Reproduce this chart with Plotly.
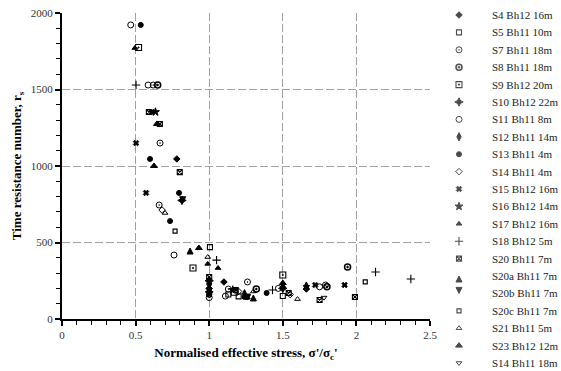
import plotly.graph_objects as go

# ---- data ----
series_names = [
    "S4 Bh12 16m", "S5 Bh11 10m", "S7 Bh11 18m", "S8 Bh11 18m", "S9 Bh12 20m",
    "S10 Bh12 22m", "S11 Bh11 8m", "S12 Bh11 14m", "S13 Bh11 4m", "S14 Bh11 4m",
    "S15 Bh12 16m", "S16 Bh12 14m", "S17 Bh12 16m", "S18 Bh12 5m", "S20 Bh11 7m",
    "S20a Bh11 7m", "S20b Bh11 7m", "S20c Bh11 7m", "S21 Bh11 5m", "S23 Bh12 12m",
    "S14 Bh11 18m",
]

s4_x = [0.78, 1.10, 1.00, 1.66]
s4_y = [1046, 242, 200, 196]
s5_x = [1.005, 1.13, 1.20, 1.50]
s5_y = [470, 160, 148, 150]
s7_x = [0.62, 0.666, 0.66, 1.26, 1.13, 1.79, 1.00]
s7_y = [1529, 1150, 745, 242, 196, 222, 140]
s8_x = [0.65, 1.94, 1.32, 1.80]
s8_y = [1529, 340, 196, 210]
s9_x = [0.52, 0.89, 1.50, 1.17]
s9_y = [1775, 333, 288, 175]
s10_x = [0.815, 1.00, 1.50]
s10_y = [775, 250, 200]
s11_x = [0.467, 0.585, 0.761, 1.11, 1.47, 1.75]
s11_y = [1922, 1529, 418, 150, 200, 210]
s12_x = [1.66, 1.00, 1.24]
s12_y = [215, 180, 165]
s13_x = [0.535, 0.598, 0.795, 0.734, 1.39, 1.24, 1.00]
s13_y = [1922, 1046, 824, 640, 170, 144, 230]
s14a_x = [0.68, 1.20, 1.55]
s14a_y = [712, 180, 160]
s15_x = [0.61, 0.503, 0.571, 1.72, 1.92, 1.26, 1.00]
s15_y = [1353, 1150, 824, 222, 222, 144, 160]
s16_x = [0.635, 1.00, 1.16]
s16_y = [1353, 170, 190]
s17_x = [0.495, 0.99, 1.06, 1.50]
s17_y = [1771, 360, 333, 215]
s18_x = [0.503, 1.05, 1.43, 2.13, 2.37]
s18_y = [1529, 385, 190, 307, 261]
s20_x = [0.59, 0.665, 0.80, 1.00, 1.18, 1.54, 1.75, 1.99]
s20_y = [1353, 1275, 960, 275, 190, 170, 124, 144]
s20a_x = [0.87, 1.00, 1.30]
s20a_y = [464, 210, 157]
s20b_x = [0.82, 1.26, 1.66]
s20b_y = [760, 124, 180]
s20c_x = [0.768, 2.06, 1.00]
s20c_y = [575, 242, 190]
s21_x = [0.70, 0.99, 1.60, 1.30]
s21_y = [693, 405, 130, 180]
s23_x = [0.625, 0.93, 0.645, 1.50]
s23_y = [1000, 464, 1275, 235]
s14b_x = [1.00, 1.78]
s14b_y = [155, 140]

series_x = [s4_x, s5_x, s7_x, s8_x, s9_x, s10_x, s11_x, s12_x, s13_x, s14a_x,
            s15_x, s16_x, s17_x, s18_x, s20_x, s20a_x, s20b_x, s20c_x, s21_x, s23_x, s14b_x]
series_y = [s4_y, s5_y, s7_y, s8_y, s9_y, s10_y, s11_y, s12_y, s13_y, s14a_y,
            s15_y, s16_y, s17_y, s18_y, s20_y, s20a_y, s20b_y, s20c_y, s21_y, s23_y, s14b_y]

x_tick_vals = [0, 0.5, 1, 1.5, 2, 2.5]
x_tick_text = ["0", "0.5", "1", "1.5", "2", "2.5"]
y_tick_vals = [0, 500, 1000, 1500, 2000]
y_tick_text = ["0", "500", "1000", "1500", "2000"]

# ---- styles ----
symbols = ["diamond", "square-open", "circle-open-dot", "circle-open-dot", "square-open-dot",
           "star-diamond", "circle-open", "diamond-tall", "circle", "diamond-open",
           "x", "star", "triangle-up", "cross-thin-open", "square-x-open",
           "arrow-up", "arrow-down", "square-open", "triangle-up-open", "triangle-up",
           "triangle-down-open"]
sizes = [5, 5, 6, 6, 6, 6, 6, 6, 5, 5, 5, 6, 5, 6, 5, 6, 6, 4, 5, 6, 5]
lws = [1, 1.1, 1, 1.5, 1.1, 1, 1, 1, 1, 1, 0.8, 1, 1, 1.1, 1.1, 1, 1, 1.2, 1, 1, 1]

SERIF = "Liberation Serif, Times New Roman, serif"
W, H = 561, 371
L = 62
plot_px_left, plot_px_right = 62, 430
plot_px_top, plot_px_bottom = 13, 319
paper_w = W - L
x_dom_end = (plot_px_right - plot_px_left) / paper_w
y_dom = [(H - plot_px_bottom) / H, (H - plot_px_top) / H]

fig = go.Figure()
for name, xs, ys, sym, sz, lw in zip(series_names, series_x, series_y, symbols, sizes, lws):
    fig.add_trace(go.Scatter(
        x=xs, y=ys, mode="markers", name=name, showlegend=False,
        marker=dict(symbol=sym, size=sz, color="black", line=dict(color="black", width=lw)),
        hoverinfo="skip",
    ))

# legend column drawn on its own axis
n = len(series_names)
leg_idx = [-i for i in range(n)]
fig.add_trace(go.Scatter(
    x=[29] * n, y=leg_idx, mode="markers", xaxis="x2", yaxis="y2", showlegend=False,
    marker=dict(symbol=symbols, size=sizes, color="black", line=dict(color="black", width=lws)),
    hoverinfo="skip", cliponaxis=False,
))
for i, name in enumerate(series_names):
    fig.add_annotation(
        x=60, y=leg_idx[i], xref="x2", yref="y2", text=name, showarrow=False,
        xanchor="left", yanchor="middle",
        font=dict(family=SERIF, size=11, color="#222"),
    )

step = 17.4
first = 15
fig.update_layout(
    width=W, height=H,
    margin=dict(l=L, r=0, t=0, b=0, autoexpand=False),
    paper_bgcolor="white", plot_bgcolor="white",
    font=dict(family=SERIF, color="#222"),
    xaxis=dict(
        domain=[0, x_dom_end], range=[0, 2.5], tickvals=x_tick_vals, ticktext=x_tick_text,
        showgrid=True, gridcolor="#a0a0a0", griddash="8px,3px", gridwidth=1,
        showline=True, linecolor="black", linewidth=2, zeroline=False,
        ticks="outside", ticklen=5, tickwidth=1.5, tickcolor="black",
        minor=dict(dtick=0.1, ticks="outside", ticklen=4, tickwidth=1.2, tickcolor="black", showgrid=False),
        tickfont=dict(family=SERIF, size=11, color="#333"),
        title=dict(text="<b>Normalised effective stress, σ'/σ<sub>c</sub>'</b>",
                   font=dict(family=SERIF, size=13, color="black"), standoff=8),
        automargin=False, anchor="y",
    ),
    yaxis=dict(
        domain=y_dom, range=[0, 2000], tickvals=y_tick_vals, ticktext=y_tick_text,
        showgrid=True, gridcolor="#a0a0a0", griddash="8px,3px", gridwidth=1,
        showline=True, linecolor="black", linewidth=2, zeroline=False,
        ticks="outside", ticklen=5, tickwidth=1.5, tickcolor="black",
        minor=dict(dtick=100, ticks="outside", ticklen=4, tickwidth=1.2, tickcolor="black", showgrid=False),
        tickfont=dict(family=SERIF, size=11, color="#333"),
        title=dict(text="<b>Time resistance number, r<sub>s</sub></b>",
                   font=dict(family=SERIF, size=13, color="black"), standoff=6),
        automargin=False, anchor="x",
    ),
    xaxis2=dict(domain=[x_dom_end, 1], range=[0, W - plot_px_right], visible=False,
                anchor="y2", fixedrange=True),
    yaxis2=dict(domain=[0, 1], range=[-(H - first) / step, first / step], visible=False,
                anchor="x2", fixedrange=True),
)

fig.write_html("out.html")
